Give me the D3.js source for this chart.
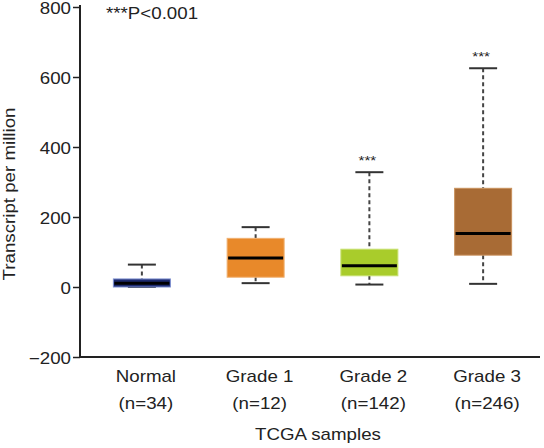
<!DOCTYPE html>
<html><head><meta charset="utf-8">
<script src="https://cdn.jsdelivr.net/npm/d3@7"></script>
<style>body{margin:0;background:#fff}svg{display:block}text{font-family:"Liberation Sans",Arial,sans-serif;fill:#222}</style>
</head><body>
<svg id="c" width="544" height="448"></svg>
<script>
const categories = ["Normal","Grade 1","Grade 2","Grade 3"];
const counts = ["(n=34)","(n=12)","(n=142)","(n=246)"];
const whiskerLow = [0, 11, 7, 9];
const q1 = [0, 28, 32, 91];
const median = [11, 83, 61, 153];
const q3 = [23, 139, 108, 282];
const whiskerHigh = [64, 171, 328, 625];
const stars = ["", "", "***", "***"];
const colors = ["#1c2a6e", "#e8892a", "#a9cc2b", "#a86b35"];
const strokes = ["#7d8fd0", "#f0b070", "#c8e070", "#c8915c"];
const yTicks = [-200, 0, 200, 400, 600, 800];
const SX = 1.17;

const svg = d3.select("#c");
const x = d3.scaleBand().domain(categories).range([85, 540]).paddingInner(0.5).paddingOuter(0.25);
const y = d3.scaleLinear().domain([-200, 800]).range([357, 7]);
const boxW = 57;

function txt(parent, tx, ty, s, size, anchor, rot) {
  return parent.append("text")
    .attr("transform", `translate(${tx},${ty})` + (rot ? ` rotate(${rot}) scale(${SX},1)` : ` scale(${SX},1)`))
    .attr("text-anchor", anchor).attr("font-size", size).text(s);
}

// y axis
const ya = svg.append("g").attr("transform","translate(80,0)")
  .call(d3.axisLeft(y).tickValues(yTicks).tickSize(7).tickFormat(""));
ya.select(".domain").attr("stroke","#222").attr("stroke-width",2).attr("d", `M0,${y(800)-2}V${y(-200)}`);
ya.selectAll(".tick line").attr("stroke","#222").attr("stroke-width",1.5);
yTicks.forEach(t => txt(svg, 71, y(t)+7, t < 0 ? "\u2212" + Math.abs(t) : String(t), 16, "end"));

svg.append("line").attr("x1",80).attr("x2",540).attr("y1",y(-200)).attr("y2",y(-200))
  .attr("stroke","#222").attr("stroke-width",2);

const g = svg.append("g");
categories.forEach((c,i) => {
  const cx = x(c) + x.bandwidth()/2;
  g.append("line").attr("x1",cx).attr("x2",cx).attr("y1",y(whiskerHigh[i])).attr("y2",y(q3[i]))
    .attr("stroke","#444").attr("stroke-width",2).attr("stroke-dasharray","4,3");
  g.append("line").attr("x1",cx).attr("x2",cx).attr("y1",y(q1[i])).attr("y2",y(whiskerLow[i]))
    .attr("stroke","#444").attr("stroke-width",2).attr("stroke-dasharray","4,3");
  g.append("line").attr("x1",cx-14).attr("x2",cx+14).attr("y1",y(whiskerHigh[i])).attr("y2",y(whiskerHigh[i]))
    .attr("stroke","#333").attr("stroke-width",2);
  g.append("line").attr("x1",cx-14).attr("x2",cx+14).attr("y1",y(whiskerLow[i])).attr("y2",y(whiskerLow[i]))
    .attr("stroke","#333").attr("stroke-width",2);
  g.append("rect").attr("x",cx-boxW/2).attr("width",boxW).attr("y",y(q3[i])).attr("height",y(q1[i])-y(q3[i]))
    .attr("fill",colors[i]).attr("stroke",strokes[i]).attr("stroke-width",1);
  g.append("line").attr("x1",cx-boxW/2+1).attr("x2",cx+boxW/2-1).attr("y1",y(median[i])).attr("y2",y(median[i]))
    .attr("stroke","#000").attr("stroke-width",3);
  if (stars[i]) txt(g, cx-2, y(whiskerHigh[i])-7, stars[i], 13, "middle");
  txt(g, cx+4, 382, c, 16, "middle");
  txt(g, cx+4, 409, counts[i], 16, "middle");
});

txt(svg, 318, 440, "TCGA samples", 16, "middle");
txt(svg, 15, 194, "Transcript per million", 16, "middle", -90);
txt(svg, 106, 19, "***P<0.001", 16, "start");
</script>
</body></html>
